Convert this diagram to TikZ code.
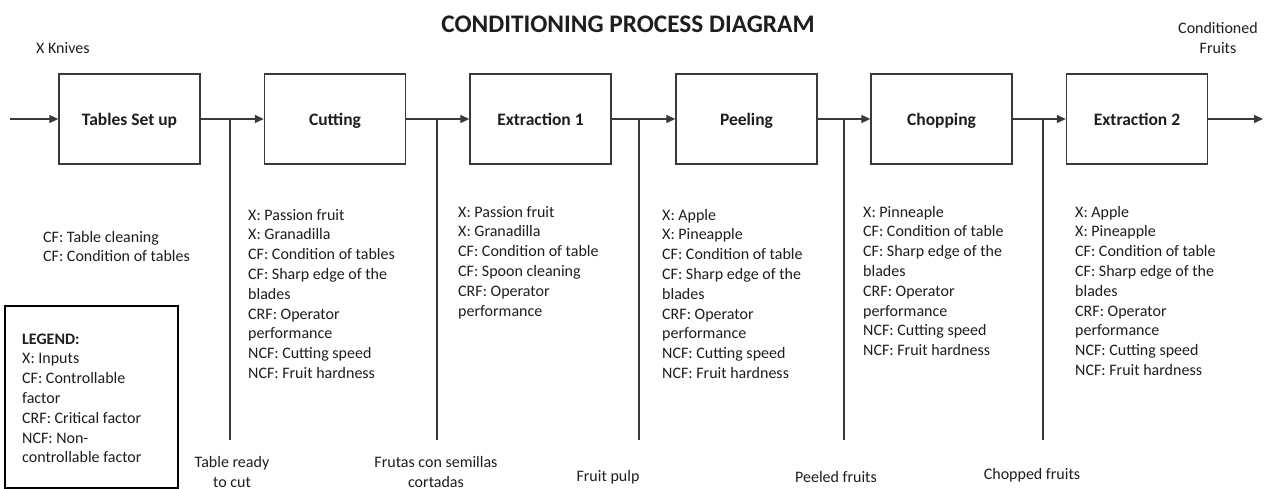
\documentclass[tikz,border=0pt]{standalone}
\usepackage{fontspec}
\setmainfont{Carlito}
\usetikzlibrary{arrows.meta}
\definecolor{ink}{HTML}{1E1E1E}
\definecolor{wire}{HTML}{3A3A3A}
\newcommand{\txt}[1]{\parbox[t]{240pt}{\raggedright\fontsize{16}{19.8}\selectfont #1}}
\tikzset{
  stage/.style={draw=wire, line width=1.4pt, minimum width=141pt, minimum height=90pt,
    inner sep=0pt, text height=16pt, text depth=3pt,
    font=\fontsize{17.5}{20}\selectfont\bfseries, text=ink},
  flow/.style={draw=wire, line width=1.3pt, -{Triangle[length=9pt,width=8pt]}},
  tap/.style={draw=wire, line width=1.3pt},
  facts/.style={anchor=base west, inner sep=0pt, text=ink},
  outlab/.style={inner sep=0pt, align=center, text=ink, font=\fontsize{16}{19.5}\selectfont},
}
\begin{document}
\begin{tikzpicture}[x=1pt, y=-1pt]
\useasboundingbox[fill=white] (0,0) rectangle (1268,489);

% title
\node[inner sep=0pt, text=ink, font=\fontsize{25.3}{30}\selectfont\bfseries] (title) at (628,24) {CONDITIONING PROCESS DIAGRAM};

% process stages
\node[stage] (s1) at (129.5,119) {Tables Set up};
\node[stage] (s2) at (335,119) {Cutting};
\node[stage] (s3) at (540.5,119) {Extraction 1};
\node[stage] (s4) at (746.5,119) {Peeling};
\node[stage] (s5) at (941.5,119) {Chopping};
\node[stage] (s6) at (1137,119) {Extraction 2};

% entry and exit of the line
\coordinate (in) at (10,119);
\coordinate (out) at (1263,119);
\draw[flow] (in) -- (s1.west);
\draw[flow] (s6.east) -- (out);

% links between stages
\draw[flow] (s1.east) -- (s2.west);
\draw[flow] (s2.east) -- (s3.west);
\draw[flow] (s3.east) -- (s4.west);
\draw[flow] (s4.east) -- (s5.west);
\draw[flow] (s5.east) -- (s6.west);

% output taps hanging from each link
\foreach \name/\x in {t1/230, t2/437, t3/639, t4/844, t5/1043} {
  \coordinate (\name top) at (\x,119);
  \coordinate (\name bot) at (\x,440);
  \draw[tap] (\name top) -- (\name bot);
}

% inputs and outputs at the ends
\node[outlab, anchor=west] (knives) at (36,48) {X Knives};
\node[outlab] (conditioned) at (1218,38) {Conditioned\\Fruits};

% factors of each stage
\node[facts] (f1) at (43,242) {\txt{CF: Table cleaning\\CF: Condition of tables}};
\node[facts] (f2) at (248,220) {\txt{X: Passion fruit\\X: Granadilla\\CF: Condition of tables\\CF: Sharp edge of the\\blades\\CRF: Operator\\performance\\NCF: Cutting speed\\NCF: Fruit hardness}};
\node[facts] (f3) at (458,217) {\txt{X: Passion fruit\\X: Granadilla\\CF: Condition of table\\CF: Spoon cleaning\\CRF: Operator\\performance}};
\node[facts] (f4) at (662,220) {\txt{X: Apple\\X: Pineapple\\CF: Condition of table\\CF: Sharp edge of the\\blades\\CRF: Operator\\performance\\NCF: Cutting speed\\NCF: Fruit hardness}};
\node[facts] (f5) at (863,217) {\txt{X: Pinneaple\\CF: Condition of table\\CF: Sharp edge of the\\blades\\CRF: Operator\\performance\\NCF: Cutting speed\\NCF: Fruit hardness}};
\node[facts] (f6) at (1075,217) {\txt{X: Apple\\X: Pineapple\\CF: Condition of table\\CF: Sharp edge of the\\blades\\CRF: Operator\\performance\\NCF: Cutting speed\\NCF: Fruit hardness}};

% legend
\draw[line width=2.4pt, draw=black] (5,306) rectangle (178,488);
\node[facts] (legend) at (22,344) {\txt{\textbf{LEGEND:}\\X: Inputs\\CF: Controllable\\factor\\CRF: Critical factor\\NCF: Non-\\controllable factor}};

% products leaving each tap
\node[outlab] (o1) at (232,472) {Table ready\\to cut};
\node[outlab] (o2) at (436,472) {Frutas con semillas\\cortadas};
\node[outlab] (o3) at (608,477) {Fruit pulp};
\node[outlab] (o4) at (836,477) {Peeled fruits};
\node[outlab] (o5) at (1032,475) {Chopped fruits};
\end{tikzpicture}
\end{document}
